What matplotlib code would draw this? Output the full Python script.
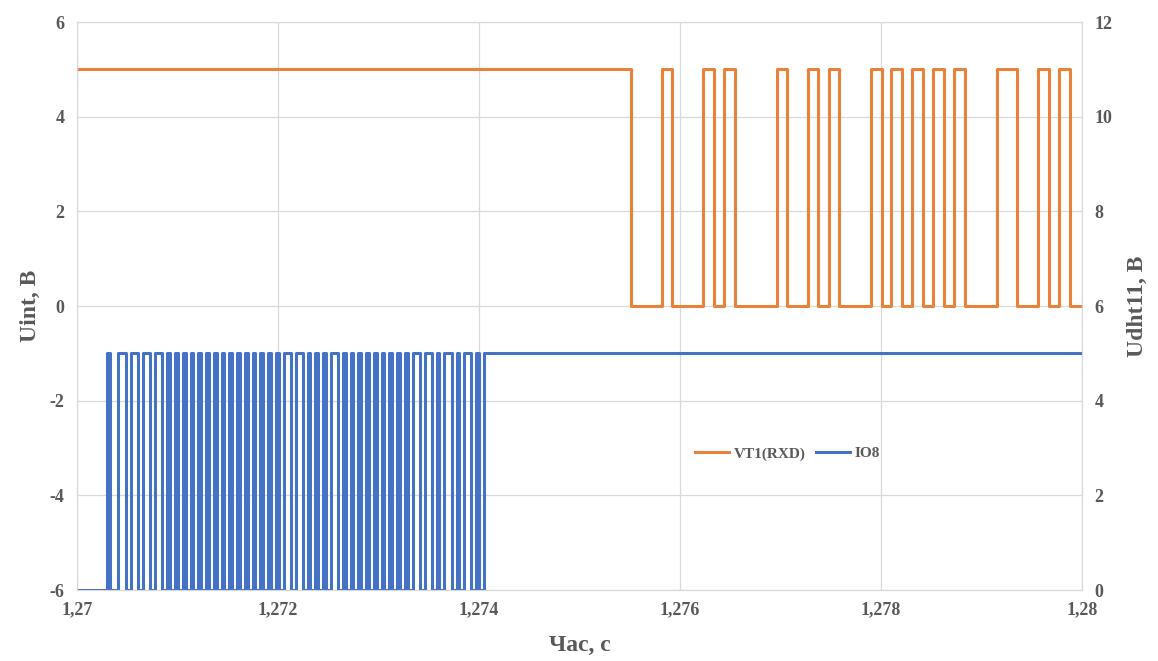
import numpy as np
import matplotlib.pyplot as plt
from matplotlib.ticker import FuncFormatter

# VT1(RXD) (left axis): high 5 V, low 0 V, edge times in s
vt1_high, vt1_low = 5, 0
vt1_fall = [1.275509, 1.275920, 1.276338, 1.276547, 1.277067, 1.277376, 1.277585,
            1.278007, 1.278212, 1.278421, 1.278627, 1.278839, 1.279356, 1.279668, 1.279880]
vt1_rise = [1.275821, 1.276232, 1.276438, 1.276962, 1.277270, 1.277479, 1.277897,
            1.278102, 1.278312, 1.278520, 1.278729, 1.279151, 1.279562, 1.279771]

# IO8 (right axis): high 5 V, low 0 V, edge times in s
io8_high, io8_low = 5, 0
io8_rise = [1.2703, 1.27041, 1.27054, 1.27066, 1.27078, 1.2709, 1.270977, 1.271054,
            1.271131, 1.271208, 1.271285, 1.271362, 1.271439, 1.271516, 1.271593,
            1.27167, 1.271747, 1.271824, 1.271901, 1.271978, 1.272055, 1.272175,
            1.272295, 1.272372, 1.272449, 1.272526, 1.272646, 1.272723, 1.2728,
            1.272877, 1.272954, 1.273031, 1.273108, 1.273185, 1.273262, 1.273339,
            1.273459, 1.273579, 1.273656, 1.273776, 1.273853, 1.273973, 1.27405]
io8_fall = [1.27033, 1.27049, 1.27061, 1.27073, 1.27085, 1.270927, 1.271004, 1.271081,
            1.271158, 1.271235, 1.271312, 1.271389, 1.271466, 1.271543, 1.27162,
            1.271697, 1.271774, 1.271851, 1.271928, 1.272005, 1.272125, 1.272245,
            1.272322, 1.272399, 1.272476, 1.272596, 1.272673, 1.27275, 1.272827,
            1.272904, 1.272981, 1.273058, 1.273135, 1.273212, 1.273289, 1.273409,
            1.273529, 1.273606, 1.273726, 1.273803, 1.273923, 1.274]

t_start, t_end = 1.27, 1.28


def edges_to_steps(start_val, rises, falls, hi, lo):
    ev = [(t, hi) for t in rises] + [(t, lo) for t in falls]
    ev.sort()
    xs = [t_start] + [e[0] for e in ev] + [t_end]
    ys = [start_val] + [e[1] for e in ev]
    ys.append(ys[-1])
    return np.array(xs), np.array(ys)


vx, vy = edges_to_steps(vt1_high, vt1_rise, vt1_fall, vt1_high, vt1_low)
ix, iy = edges_to_steps(io8_low, io8_rise, io8_fall, io8_high, io8_low)

plt.rcParams['axes.unicode_minus'] = False
orange = '#E8823A'
blue = '#4472C4'
txt = '#595959'
font = ['Liberation Serif', 'DejaVu Serif']

fig = plt.figure(figsize=(11.58, 6.61), dpi=100)
ax = fig.add_axes([0.0665, 0.1074, 0.868, 0.8593])
ax2 = ax.twinx()

ax.plot(vx, vy, drawstyle='steps-post', color=orange, lw=2.2, label='VT1(RXD)')
ax2.plot(ix, iy, drawstyle='steps-post', color=blue, lw=2.2, label='IO8')

ax.set_xlim(t_start, t_end)
ax.set_ylim(-6, 6)
ax2.set_ylim(0, 12)
ax.set_xticks(np.arange(1.27, 1.2801, 0.002))
ax.set_yticks(np.arange(-6, 7, 2))
ax2.set_yticks(np.arange(0, 13, 2))
ax.xaxis.set_major_formatter(FuncFormatter(lambda v, p: ('%g' % round(v, 4)).replace('.', ',')))

ax.grid(True, color='#D9D9D9', lw=0.9)
ax.set_axisbelow(True)
for a in (ax, ax2):
    for s in a.spines.values():
        s.set_color('#D9D9D9')
    a.tick_params(length=0, labelsize=13, labelcolor=txt, pad=9)
    for lab in a.get_xticklabels() + a.get_yticklabels():
        lab.set_family(font)
        lab.set_fontweight('bold')
ax.tick_params(axis='x', pad=8)

ax.set_ylabel('Uint, B', fontsize=17, fontweight='bold', color=txt, family=font, labelpad=6)
ax2.set_ylabel('Udht11, B', fontsize=17, fontweight='bold', color=txt, family=font, labelpad=10)
ax.set_xlabel('Час, с', fontsize=17, fontweight='bold', color=txt, family=font, labelpad=12)

h1, l1 = ax.get_legend_handles_labels()
h2, l2 = ax2.get_legend_handles_labels()
leg = ax2.legend(h1 + h2, l1 + l2, loc='center', bbox_to_anchor=(0.707, 0.24), ncol=2,
                 frameon=False, handlelength=2.2, columnspacing=0.7, handletextpad=0.3,
                 prop={'family': font, 'weight': 'bold', 'size': 11})
for t in leg.get_texts():
    t.set_color(txt)

fig.savefig('out.png', dpi=100)
